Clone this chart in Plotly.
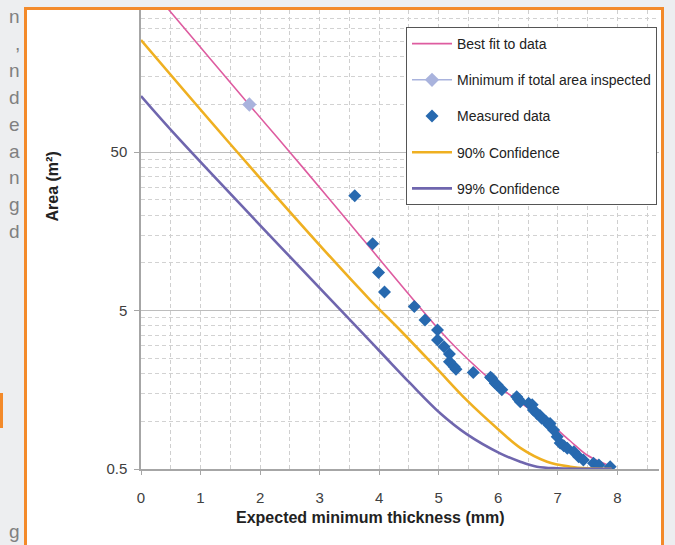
import plotly.graph_objects as go

# best fit to data
fit_x = [0, 0.47, 1.82, 2.5, 3.18, 5.01, 5.33, 5.98, 6.48, 6.93, 7.21, 7.49, 7.77, 7.9]
fit_y = [640, 395, 99.3, 50, 24.9, 3.77, 2.82, 1.69, 1.23, 0.925, 0.751, 0.613, 0.543, 0.52]

# minimum if total area inspected
min_x = [1.82]
min_y = [100]

# measured data
meas_x = [3.59, 3.89, 3.99, 4.09, 4.59, 4.77, 4.98, 4.98, 5.09, 5.18, 5.18, 5.26, 5.29,
          5.58, 5.87, 5.89, 5.95, 5.98, 6.06, 6.31, 6.34, 6.37, 6.51, 6.57, 6.59, 6.65,
          6.70, 6.73, 6.80, 6.85, 6.87, 6.93, 6.99, 7.04, 7.10, 7.16, 7.27, 7.35, 7.43,
          7.60, 7.69, 7.88]
meas_y = [26.5, 13.2, 8.7, 6.55, 5.3, 4.36, 3.77, 3.26, 2.96, 2.66, 2.38, 2.21, 2.13,
          2.03, 1.90, 1.87, 1.74, 1.70, 1.58, 1.43, 1.38, 1.33, 1.30, 1.27, 1.18, 1.12,
          1.09, 1.045, 1.0, 0.95, 0.97, 0.88, 0.80, 0.73, 0.70, 0.675, 0.643, 0.598, 0.57,
          0.543, 0.53, 0.517]

# 90% confidence
c90_x = [0, 1.44, 3.18, 3.85, 4.35, 4.97, 5.47, 6.03, 6.37, 6.82, 7.21, 7.49, 7.9]
c90_y = [255, 59.7, 10.9, 5.83, 3.77, 2.15, 1.36, 0.87, 0.68, 0.556, 0.517, 0.505, 0.502]

# 99% confidence
c99_x = [0, 0.655, 3.99, 4.52, 5.03, 5.47, 6.03, 6.37, 6.65, 6.99, 7.9]
c99_y = [113, 59.7, 2.82, 1.74, 1.12, 0.83, 0.628, 0.556, 0.517, 0.505, 0.502]

x_ticks = [0, 1, 2, 3, 4, 5, 6, 7, 8]
y_ticks = [0.5, 5, 50]
y_minor = [1, 1.5, 2, 2.5, 3, 3.5, 4, 4.5,
           10, 15, 20, 25, 30, 35, 40, 45,
           100, 150, 200, 250, 300, 350, 400, 450]

side_letters = ['n', ',', 'n', 'd', 'e', 'a', 'n', 'g', 'd']

# plot area in pixels
L, R, T, B = 141, 659, 10, 469
W, H = R - L, B - T


def px(x):
    return (x - L) / W


def py(y):
    return (B - y) / H


FONT = "Liberation Sans Narrow, Arial Narrow, Liberation Sans, Arial, sans-serif"
SIDE_FONT = dict(size=19, color='#808080', family='Liberation Sans, Arial, sans-serif')

fig = go.Figure()

fig.add_trace(go.Scatter(
    x=fit_x, y=fit_y, mode='lines', name='Best fit to data',
    line=dict(color='#DE5CA0', width=1.6, shape='spline', smoothing=1.0), legendgroup='a'
))
fig.add_trace(go.Scatter(
    x=min_x, y=min_y, mode='lines+markers', name='Minimum if total area inspected',
    line=dict(color='#A9B3DD', width=1.6),
    marker=dict(symbol='diamond', size=11, color='#A9B3DD'), legendgroup='b'
))
fig.add_trace(go.Scatter(
    x=meas_x, y=meas_y, mode='markers', name='Measured data',
    marker=dict(symbol='diamond', size=10, color='#2769AF'), legendgroup='c'
))
fig.add_trace(go.Scatter(
    x=c90_x, y=c90_y, mode='lines', name='90% Confidence',
    line=dict(color='#EFB021', width=2.6, shape='spline', smoothing=1.0), legendgroup='d'
))
fig.add_trace(go.Scatter(
    x=c99_x, y=c99_y, mode='lines', name='99% Confidence',
    line=dict(color='#6F66AE', width=2.6, shape='spline', smoothing=1.0), legendgroup='e'
))

shapes = [
    # white card with orange frame
    dict(type='rect', xref='paper', yref='paper', layer='below',
         x0=px(25.5), x1=px(662.5), y0=py(570), y1=py(8.5),
         fillcolor='white', line=dict(color='#F38A2A', width=3)),
    # small orange accent on the left
    dict(type='rect', xref='paper', yref='paper', layer='below',
         x0=px(-2), x1=px(3), y0=py(428), y1=py(393),
         fillcolor='#F38A2A', line=dict(width=0)),
]

annotations = [
    dict(text='<b>Area (m²)</b>', xref='paper', yref='paper', x=px(42), y=py(187),
         textangle=-90, showarrow=False, font=dict(size=16, color='#222', family=FONT)),
    dict(text='<b>Expected minimum thickness (mm)</b>', xref='paper', yref='paper',
         x=px(370), y=py(528), showarrow=False,
         font=dict(size=16, color='#222', family=FONT)),
]
for i, ch in enumerate(side_letters):
    annotations.append(dict(
        text=ch, xref='paper', yref='paper', x=px(21), y=py(17 + i * 26.8),
        xanchor='right', yanchor='middle', showarrow=False, borderpad=0, font=SIDE_FONT
    ))
annotations.append(dict(
    text='g', xref='paper', yref='paper', x=px(21), y=py(531),
    xanchor='right', yanchor='middle', showarrow=False, borderpad=0, font=SIDE_FONT
))

fig.update_layout(
    width=675, height=545,
    margin=dict(l=L, r=675 - R, t=T, b=545 - B),
    paper_bgcolor='#EDEEF0',
    plot_bgcolor='rgba(0,0,0,0)',
    font=dict(family=FONT, size=15, color='#404040'),
    shapes=shapes,
    annotations=annotations,
    xaxis=dict(
        range=[0, 8.7], tickvals=x_ticks, showgrid=True,
        gridcolor='#CFCFCF', griddash='4px,3px', gridwidth=1,
        minor=dict(dtick=0.5, tick0=0, showgrid=True, gridcolor='#CFCFCF',
                   griddash='4px,3px', ticks=''),
        showline=True, linecolor='#A6A6A6', linewidth=1.5,
        ticks='outside', ticklen=4, tickcolor='#A6A6A6',
        ticklabelstandoff=10, zeroline=False,
        tickfont=dict(size=15, color='#404040')
    ),
    yaxis=dict(
        type='log', range=[-0.30103, 2.5966], tickvals=y_ticks, ticktext=['0.5', '5', '50'],
        showgrid=True, gridcolor='#BDBDBD', gridwidth=1.2,
        minor=dict(tickmode='array', tickvals=y_minor, showgrid=True, gridcolor='#D2D2D2',
                   griddash='4px,3px', ticks=''),
        showline=True, linecolor='#A6A6A6', linewidth=1.5,
        ticks='outside', ticklen=5, tickcolor='#A6A6A6',
        ticklabelstandoff=4, zeroline=False,
        tickfont=dict(size=15, color='#404040')
    ),
    legend=dict(
        x=px(657), y=py(27), xanchor='right', yanchor='top',
        bgcolor='white', bordercolor='#555555', borderwidth=1,
        font=dict(size=14, color='#222', family=FONT),
        tracegroupgap=15, itemwidth=40
    ),
    showlegend=True,
)

fig.write_html("out.html", config={'displayModeBar': False},
               post_script="document.body.style.margin='0';")
